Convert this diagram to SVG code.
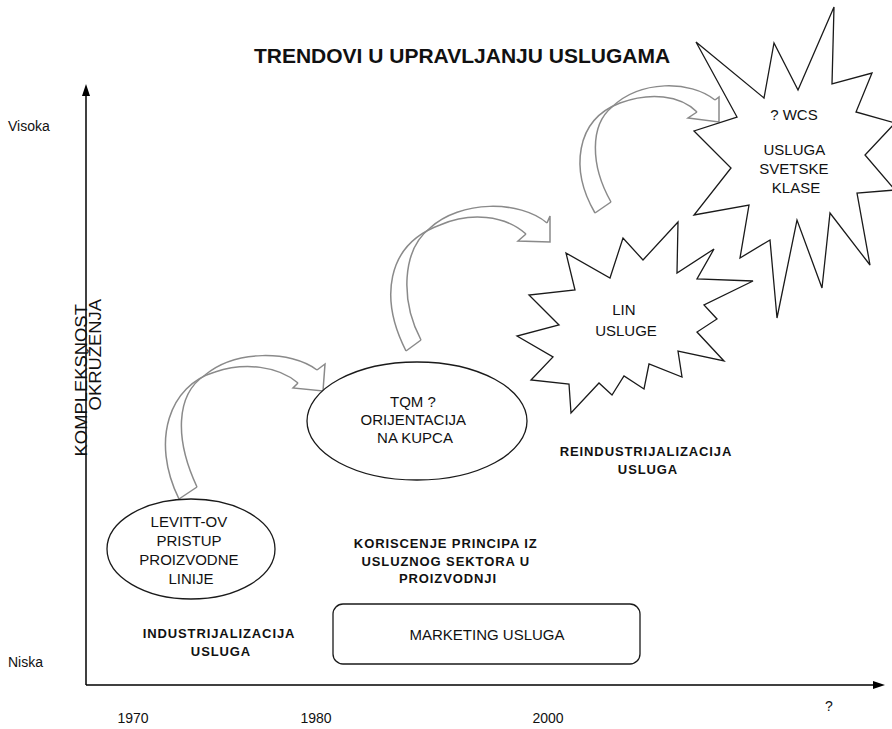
<svg xmlns="http://www.w3.org/2000/svg" width="892" height="729" viewBox="0 0 892 729">
  <style>
    text { font-family: "Liberation Sans", Arial, sans-serif; fill: #111; }
    .reg { font-size: 15px; }
    .lbl { font-size: 14px; }
    .bold { font-size: 13px; font-weight: bold; letter-spacing: 0.9px; }
    .title { font-size: 21px; font-weight: bold; }
    .shape { fill: #fff; stroke: #1a1a1a; stroke-width: 1.3; stroke-linejoin: miter; }
    .axis { stroke: #000; stroke-width: 1.5; fill: none; }
    .bend { fill: none; stroke: #8a8a8a; stroke-width: 1.5; stroke-linejoin: miter; }
  </style>

  <rect width="892" height="729" fill="#fff"/>

  <!-- heading -->
  <text id="title" class="title" x="462" y="63" text-anchor="middle">TRENDOVI U UPRAVLJANJU USLUGAMA</text>

  <!-- axes -->
  <g id="axes">
    <line class="axis" x1="86" y1="94" x2="86" y2="685"/>
    <line class="axis" x1="86" y1="685" x2="874" y2="685"/>
    <polygon points="86,84 82,96 90,96" fill="#000"/>
    <polygon points="885,685 873,681 873,689" fill="#000"/>
    <text class="lbl" x="8" y="131">Visoka</text>
    <text class="lbl" x="8" y="667">Niska</text>
    <text font-size="16" transform="translate(87,299) rotate(-90) scale(1.15,1)" text-anchor="end">
      <tspan x="0" y="0">KOMPLEKSNOST</tspan>
      <tspan x="0" y="14">OKRUŽENJA</tspan>
    </text>
    <text class="lbl" x="133" y="723" text-anchor="middle">1970</text>
    <text class="lbl" x="316" y="723" text-anchor="middle">1980</text>
    <text class="lbl" x="548" y="723" text-anchor="middle">2000</text>
    <text class="lbl" x="829" y="711" text-anchor="middle">?</text>
  </g>

  <!-- period labels -->
  <g id="label-industrijalizacija">
    <text class="bold" x="221" y="638" text-anchor="middle">
      <tspan x="221">INDUSTRIJALIZACIJA</tspan>
      <tspan x="221" dy="18">USLUGA</tspan>
    </text>
  </g>
  <g id="label-koriscenje">
    <text class="bold" x="448" y="548" text-anchor="middle">
      <tspan x="448">KORISCENJE PRINCIPA IZ</tspan>
      <tspan x="448" dy="17.5">USLUZNOG SEKTORA U</tspan>
      <tspan x="448" dy="17.5">PROIZVODNJI</tspan>
    </text>
  </g>
  <g id="label-reindustrijalizacija">
    <text class="bold" x="648" y="456" text-anchor="middle">
      <tspan x="648">REINDUSTRIJALIZACIJA</tspan>
      <tspan x="648" dy="18">USLUGA</tspan>
    </text>
  </g>

  <!-- curved transition arrows -->
  <g id="connectors">
    <g id="bend-1">
      <path class="bend" d="M179,499 C150,440 170,385 215,372 C245,362 278,366 298,383"/>
      <path class="bend" d="M197,487 C175,440 175,395 205,375 C235,350 290,350 317,370"/>
      <polyline class="bend" points="317,370 325,364 323,391 293,388 298,383"/>
      <line class="bend" x1="179" y1="499" x2="197" y2="487"/>
    </g>
    <g id="bend-2">
      <path class="bend" d="M406,351 C380,300 385,245 440,225 C470,212 505,215 526,234"/>
      <path class="bend" d="M421,340 C400,300 402,250 430,228 C460,200 520,200 547,223"/>
      <polyline class="bend" points="547,223 550,216 550,242 518,241 526,234"/>
      <line class="bend" x1="406" y1="351" x2="421" y2="340"/>
    </g>
    <g id="bend-3">
      <path class="bend" d="M595,213 C570,170 575,120 620,103 C650,92 680,95 697,112"/>
      <path class="bend" d="M611,202 C590,165 590,125 612,107 C640,80 690,80 715,100"/>
      <polyline class="bend" points="715,100 719,97 719,122 688,118 697,112"/>
      <line class="bend" x1="595" y1="213" x2="611" y2="202"/>
    </g>
  </g>

  <!-- nodes -->
  <g id="node-levitt">
    <ellipse class="shape" cx="191" cy="549" rx="84" ry="50"/>
    <text class="reg" text-anchor="middle">
      <tspan x="191" y="527">LEVITT-OV</tspan>
      <tspan x="191" y="546">PRISTUP</tspan>
      <tspan x="191" y="565">PROIZVODNE</tspan>
      <tspan x="191" y="584">LINIJE</tspan>
    </text>
  </g>

  <g id="node-tqm">
    <ellipse class="shape" cx="417" cy="421" rx="110" ry="59"/>
    <text class="reg" text-anchor="middle">
      <tspan x="415" y="407">TQM ?</tspan>
      <tspan x="415" y="425">ORIJENTACIJA</tspan>
      <tspan x="415" y="443">NA KUPCA</tspan>
    </text>
  </g>

  <g id="node-marketing">
    <rect class="shape" x="333" y="604" width="307" height="60" rx="10"/>
    <text class="reg" x="487" y="640" text-anchor="middle">MARKETING  USLUGA</text>
  </g>

  <g id="node-lin">
    <polygon class="shape" points="678,222 677,273 714,249 697,279 753,281 704,305 717,319 697,332 724,361 678,351 682,377 649,364 644,389 624,376 612,395 599,383 571,413 569,384 531,380 553,357 517,336 559,325 529,295 575,290 566,253 610,278 623,238 643,260"/>
    <text class="reg" text-anchor="middle">
      <tspan x="626" y="315">LIN</tspan>
      <tspan x="626" y="336">USLUGE</tspan>
    </text>
  </g>

  <g id="node-wcs">
    <polygon class="shape" points="834,7 832,84 872,73 856,112 895,123 865,155 895,190 857,193 870,265 830,213 822,288 797,220 777,318 770,240 740,258 749,205 694,215 731,168 694,131 737,117 696,42 764,98 774,43 798,90"/>
    <text class="reg" text-anchor="middle">
      <tspan x="796" y="120">? WCS</tspan>
      <tspan x="796" y="155">USLUGA</tspan>
      <tspan x="796" y="174">SVETSKE</tspan>
      <tspan x="796" y="193">KLASE</tspan>
    </text>
  </g>
</svg>
